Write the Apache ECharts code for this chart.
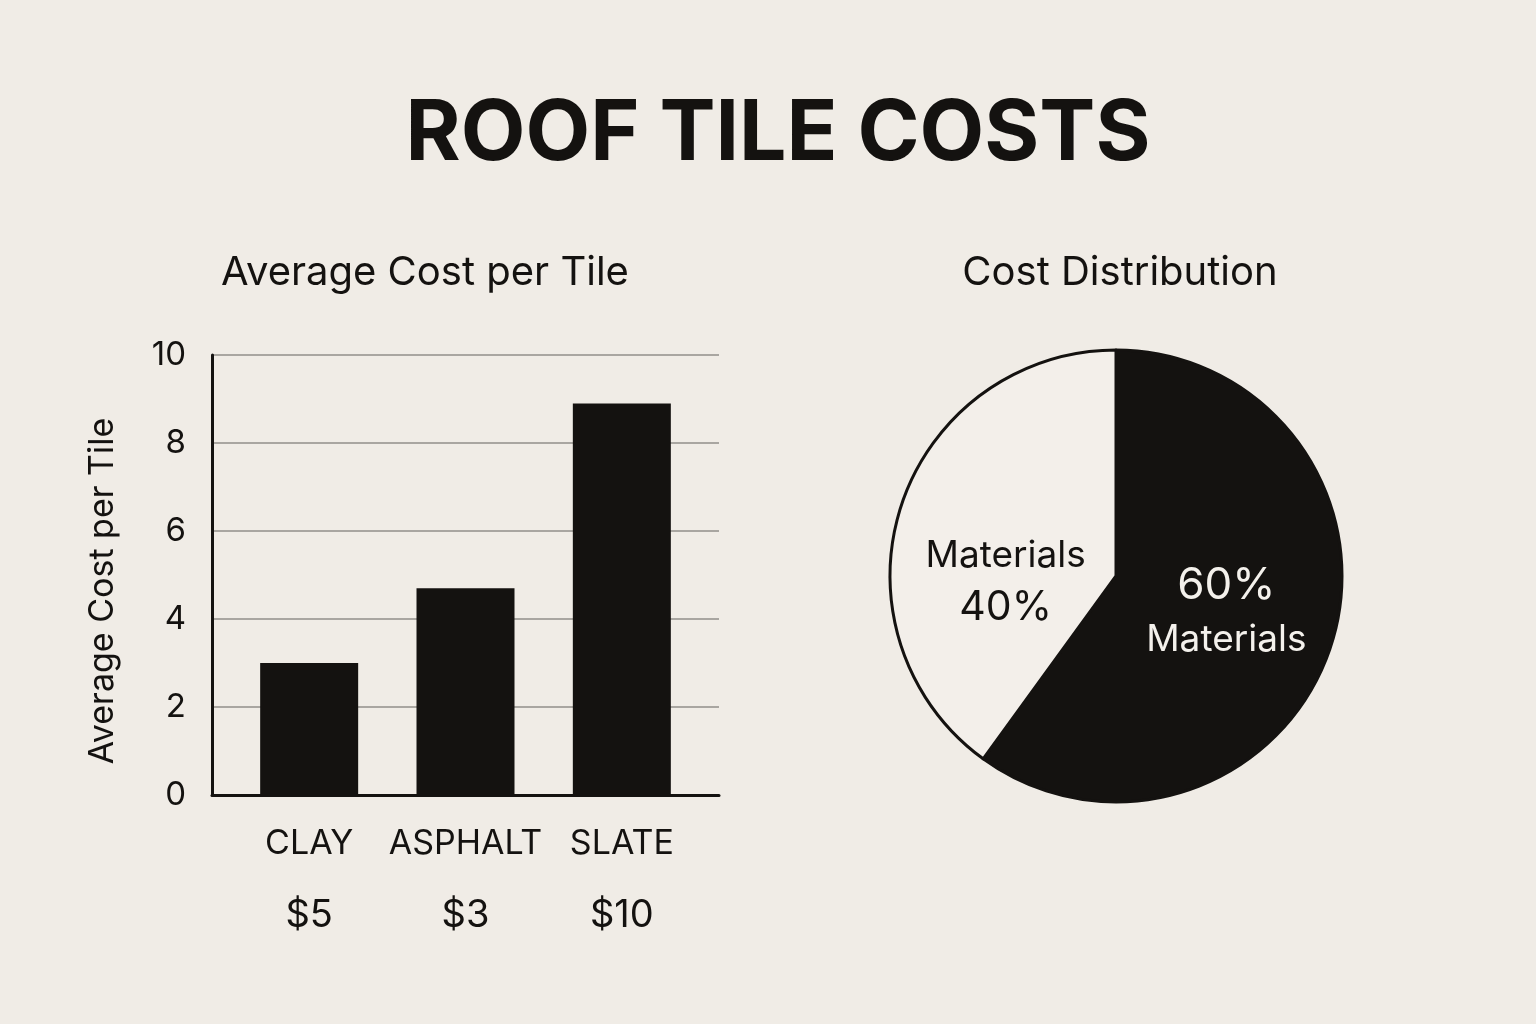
<!DOCTYPE html>
<html>
<head>
<meta charset="utf-8">
<script src="https://cdn.jsdelivr.net/npm/echarts@6/dist/echarts.min.js"></script>
<style>
  html, body { margin: 0; padding: 0; background: #f0ece6; }
  #chart { width: 1536px; height: 1024px; }
</style>
</head>
<body>
<div id="chart"></div>
<script>
const chart = echarts.init(document.getElementById('chart'));

// data
const tileTypes = ['CLAY', 'ASPHALT', 'SLATE'];
const tilePrices = ['$5', '$3', '$10'];
const avgCost = [3, 4.7, 8.9];
const yTicks = [0, 2, 4, 6, 8, 10];

const pieNames = ['Materials', 'Materials'];
const pieValues = [60, 40];

const ink = '#141210';
const bg = '#f0ece6';
const font = 'Inter';

const option = {
  backgroundColor: bg,
  textStyle: { fontFamily: font, color: ink },
  title: [
    {
      text: 'ROOF TILE COSTS',
      left: 773,
      textAlign: 'center',
      top: 88,
      textStyle: { fontSize: 84, fontWeight: 'bold', color: ink, fontFamily: font }
    },
    {
      text: 'Average Cost per Tile',
      left: 420,
      textAlign: 'center',
      top: 248,
      textStyle: { fontSize: 40, fontWeight: 'normal', color: ink, fontFamily: font }
    },
    {
      text: 'Cost Distribution',
      left: 1115,
      textAlign: 'center',
      top: 248,
      textStyle: { fontSize: 40, fontWeight: 'normal', color: ink, fontFamily: font }
    }
  ],
  grid: [
    // axes frame
    { left: 212, right: 1536 - 719, top: 355, bottom: 1024 - 795 },
    // bars
    { left: 231, right: 1536 - 700, top: 355, bottom: 1024 - 795 }
  ],
  xAxis: [
    {
      gridIndex: 0,
      type: 'category',
      data: tileTypes,
      axisLine: { lineStyle: { color: ink, width: 3 } },
      axisTick: { show: false },
      axisLabel: { show: false }
    },
    {
      gridIndex: 1,
      type: 'category',
      data: tileTypes,
      axisLine: { show: false },
      axisTick: { show: false },
      axisLabel: {
        margin: 13,
        formatter: (v, i) => '{n|' + v + '}\n{p|' + tilePrices[i] + '}',
        rich: {
          n: { fontSize: 34, color: ink, fontFamily: font, lineHeight: 72 },
          p: { fontSize: 38, color: ink, fontFamily: font, lineHeight: 72 }
        }
      }
    }
  ],
  yAxis: [
    {
      gridIndex: 0,
      type: 'value',
      min: yTicks[0],
      max: yTicks[yTicks.length - 1],
      interval: 2,
      name: 'Average Cost per Tile',
      nameLocation: 'middle',
      nameGap: 92,
      nameTextStyle: { fontSize: 34, color: ink, fontFamily: font, padding: [0, 32, 0, 0] },
      axisLine: { show: true, lineStyle: { color: ink, width: 3 } },
      axisTick: { show: false },
      axisLabel: { fontSize: 33, color: ink, fontFamily: font, margin: 26 },
      splitLine: { lineStyle: { color: '#a9a6a1', width: 2 } }
    },
    {
      gridIndex: 1,
      type: 'value',
      min: yTicks[0],
      max: yTicks[yTicks.length - 1],
      show: false,
      splitLine: { show: false }
    }
  ],
  series: [
    {
      type: 'bar',
      xAxisIndex: 1,
      yAxisIndex: 1,
      data: avgCost,
      barWidth: 98,
      itemStyle: { color: ink },
      silent: true
    },
    {
      type: 'pie',
      center: [1116, 576],
      radius: [0, 226],
      startAngle: 90,
      clockwise: true,
      silent: true,
      itemStyle: { borderColor: ink, borderWidth: 3 },
      label: {
        show: true,
        position: 'inside',
        fontFamily: font
      },
      labelLine: { show: false },
      data: [
        {
          name: pieNames[0],
          value: pieValues[0],
          itemStyle: { color: ink },
          label: {
            formatter: '{v|{c}%}\n{n|{b}}',
            rich: {
              v: { fontSize: 44, color: '#f4f1ec', fontFamily: font, lineHeight: 56 },
              n: { fontSize: 37, color: '#f4f1ec', fontFamily: font, lineHeight: 52 }
            }
          }
        },
        {
          name: pieNames[1],
          value: pieValues[1],
          itemStyle: { color: '#f3efea' },
          label: {
            padding: [84, 0, 0, 0],
            formatter: '{n|{b}}\n{v|{c}%}',
            rich: {
              n: { fontSize: 37, color: ink, fontFamily: font, lineHeight: 52 },
              v: { fontSize: 41, color: ink, fontFamily: font, lineHeight: 52 }
            }
          }
        }
      ]
    }
  ]
};

chart.setOption(option);

window.addEventListener('resize', () => {
  chart.resize();
});
</script>
</body>
</html>
